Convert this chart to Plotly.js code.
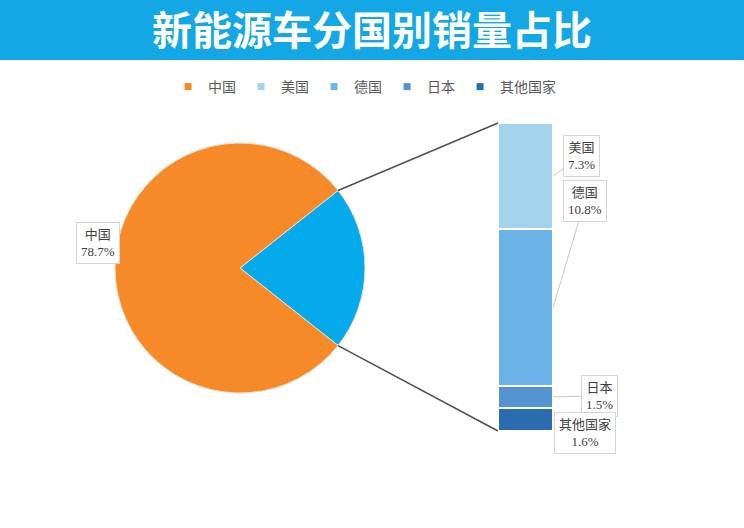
<!DOCTYPE html>
<html>
<head>
<meta charset="utf-8">
<script src="https://cdn.plot.ly/plotly-3.0.1.min.js"></script>
<style>
  html, body { margin: 0; padding: 0; background: #fff; }
  #chart { width: 744px; height: 528px; }
</style>
</head>
<body>
<div id="chart"></div>
<script>
// Data
const chinaName = '中国';
const chinaShare = 78.7;
const otherName = '其他';
const otherShare = 21.3;

// breakdown of the non-China slice, top to bottom
const countries = ['美国', '德国', '日本', '其他国家'];
const shares = [7.3, 10.8, 1.5, 1.6];
const shareLabels = ['7.3%', '10.8%', '1.5%', '1.6%'];

// Colours
const W = 744, H = 528;
const colors = {
    banner: '#13a8e5',
    china: '#f68a28',
    other: '#05aaea',
    bars: ['#a4d3ee', '#6cb4e8', '#5592d0', '#2b6cb0'],
    text: '#595959',
    label: '#404040',
    box: '#d6d6d6'
};
const labelFont = { family: 'Liberation Serif, Noto Sans CJK SC, serif', size: 13, color: colors.label };

// Geometry (pixels)
const pie = { cx: 240, cy: 268, r: 125 };
const barBox = { left: 498, right: 553, top: 123, bottom: 431 };

const px = x => x / W;
const py = y => 1 - y / H;

const total = shares.reduce((a, b) => a + b, 0);
const halfAngle = otherShare / 100 * Math.PI; // half of the slice angle, radians

const traces = [];

// pie: other slice centred on 3 o'clock
traces.push({
    type: 'pie',
    labels: [otherName, chinaName],
    values: [otherShare, chinaShare],
    sort: false,
    direction: 'clockwise',
    rotation: 90 - otherShare / 100 * 180,
    marker: { colors: [colors.other, colors.china], line: { color: '#e8e0d0', width: 1 } },
    textinfo: 'none',
    hoverinfo: 'label+percent',
    showlegend: false,
    domain: {
        x: [px(pie.cx - pie.r), px(pie.cx + pie.r)],
        y: [py(pie.cy + pie.r), py(pie.cy - pie.r)]
    }
});

// stacked bar: bottom first
for (let i = countries.length - 1; i >= 0; i--) {
    traces.push({
        type: 'bar',
        x: [0],
        y: [shares[i]],
        name: countries[i],
        width: 1,
        marker: { color: colors.bars[i], line: { color: '#ffffff', width: 1.5 } },
        showlegend: false,
        hoverinfo: 'name+y'
    });
}

// legend entries (small squares, like the original)
const legendNames = [chinaName].concat(countries);
const legendColors = [colors.china].concat(colors.bars);
legendNames.forEach((n, i) => {
    traces.push({
        type: 'scatter', mode: 'markers', x: [null], y: [null], name: n,
        marker: { symbol: 'square', size: 7, color: legendColors[i] },
        legendrank: i + 1
    });
});

// label boxes for the bar segments
const barLabelOffsets = [[28, -20], [32, -107], [46, -1], [32, 14]];
const annotations = [];
let cum = total;
countries.forEach((c, i) => {
    const mid = cum - shares[i] / 2;
    cum -= shares[i];
    annotations.push({
        xref: 'x', yref: 'y', x: 0.5, y: mid,
        axref: 'pixel', ayref: 'pixel',
        ax: barLabelOffsets[i][0], ay: barLabelOffsets[i][1],
        text: c + '<br>' + shareLabels[i],
        showarrow: true, arrowhead: 0, arrowwidth: 1, arrowcolor: '#c8c8c8',
        font: labelFont,
        bgcolor: '#ffffff', bordercolor: colors.box, borderwidth: 1, borderpad: 4
    });
});

// China label
annotations.push({
    xref: 'paper', yref: 'paper',
    x: px(98), y: py(243),
    xanchor: 'center', yanchor: 'middle',
    text: chinaName + '<br>' + chinaShare + '%',
    showarrow: false,
    font: labelFont,
    bgcolor: '#ffffff', bordercolor: colors.box, borderwidth: 1, borderpad: 4
});

// banner + connector lines
const upper = { x: pie.cx + pie.r * Math.cos(halfAngle), y: pie.cy - pie.r * Math.sin(halfAngle) };
const lower = { x: pie.cx + pie.r * Math.cos(halfAngle), y: pie.cy + pie.r * Math.sin(halfAngle) };
const shapes = [
    {
        type: 'rect', xref: 'paper', yref: 'paper', layer: 'below',
        x0: 0, x1: 1, y0: py(60), y1: 1,
        fillcolor: colors.banner, line: { width: 0 }
    },
    {
        type: 'line', xref: 'paper', yref: 'paper',
        x0: px(upper.x), y0: py(upper.y), x1: px(barBox.left), y1: py(barBox.top),
        line: { color: '#505050', width: 1.5 }
    },
    {
        type: 'line', xref: 'paper', yref: 'paper',
        x0: px(lower.x), y0: py(lower.y), x1: px(barBox.left), y1: py(barBox.bottom),
        line: { color: '#505050', width: 1.5 }
    }
];

const layout = {
    width: W, height: H,
    margin: { l: 0, r: 0, t: 0, b: 0 },
    paper_bgcolor: '#ffffff',
    plot_bgcolor: 'rgba(0,0,0,0)',
    title: {
        text: '<b>新能源车分国别销量占比</b>',
        font: { family: 'Noto Sans CJK SC, sans-serif', size: 40, color: '#ffffff' },
        x: 0.5, xanchor: 'center',
        y: py(31), yanchor: 'middle'
    },
    barmode: 'stack',
    bargap: 0,
    xaxis: {
        domain: [px(barBox.left), px(barBox.right)],
        range: [-0.5, 0.5],
        visible: false, fixedrange: true
    },
    yaxis: {
        domain: [py(barBox.bottom), py(barBox.top)],
        range: [0, total],
        visible: false, fixedrange: true
    },
    showlegend: true,
    legend: {
        orientation: 'h',
        x: 0.49, xanchor: 'center',
        y: py(87), yanchor: 'middle',
        font: { family: 'Noto Sans CJK SC, sans-serif', size: 14, color: colors.text },
        itemwidth: 30,
        traceorder: 'normal',
        bgcolor: 'rgba(0,0,0,0)'
    },
    annotations: annotations,
    shapes: shapes
};

Plotly.newPlot('chart', traces, layout, { displayModeBar: false, staticPlot: true });
</script>
</body>
</html>
